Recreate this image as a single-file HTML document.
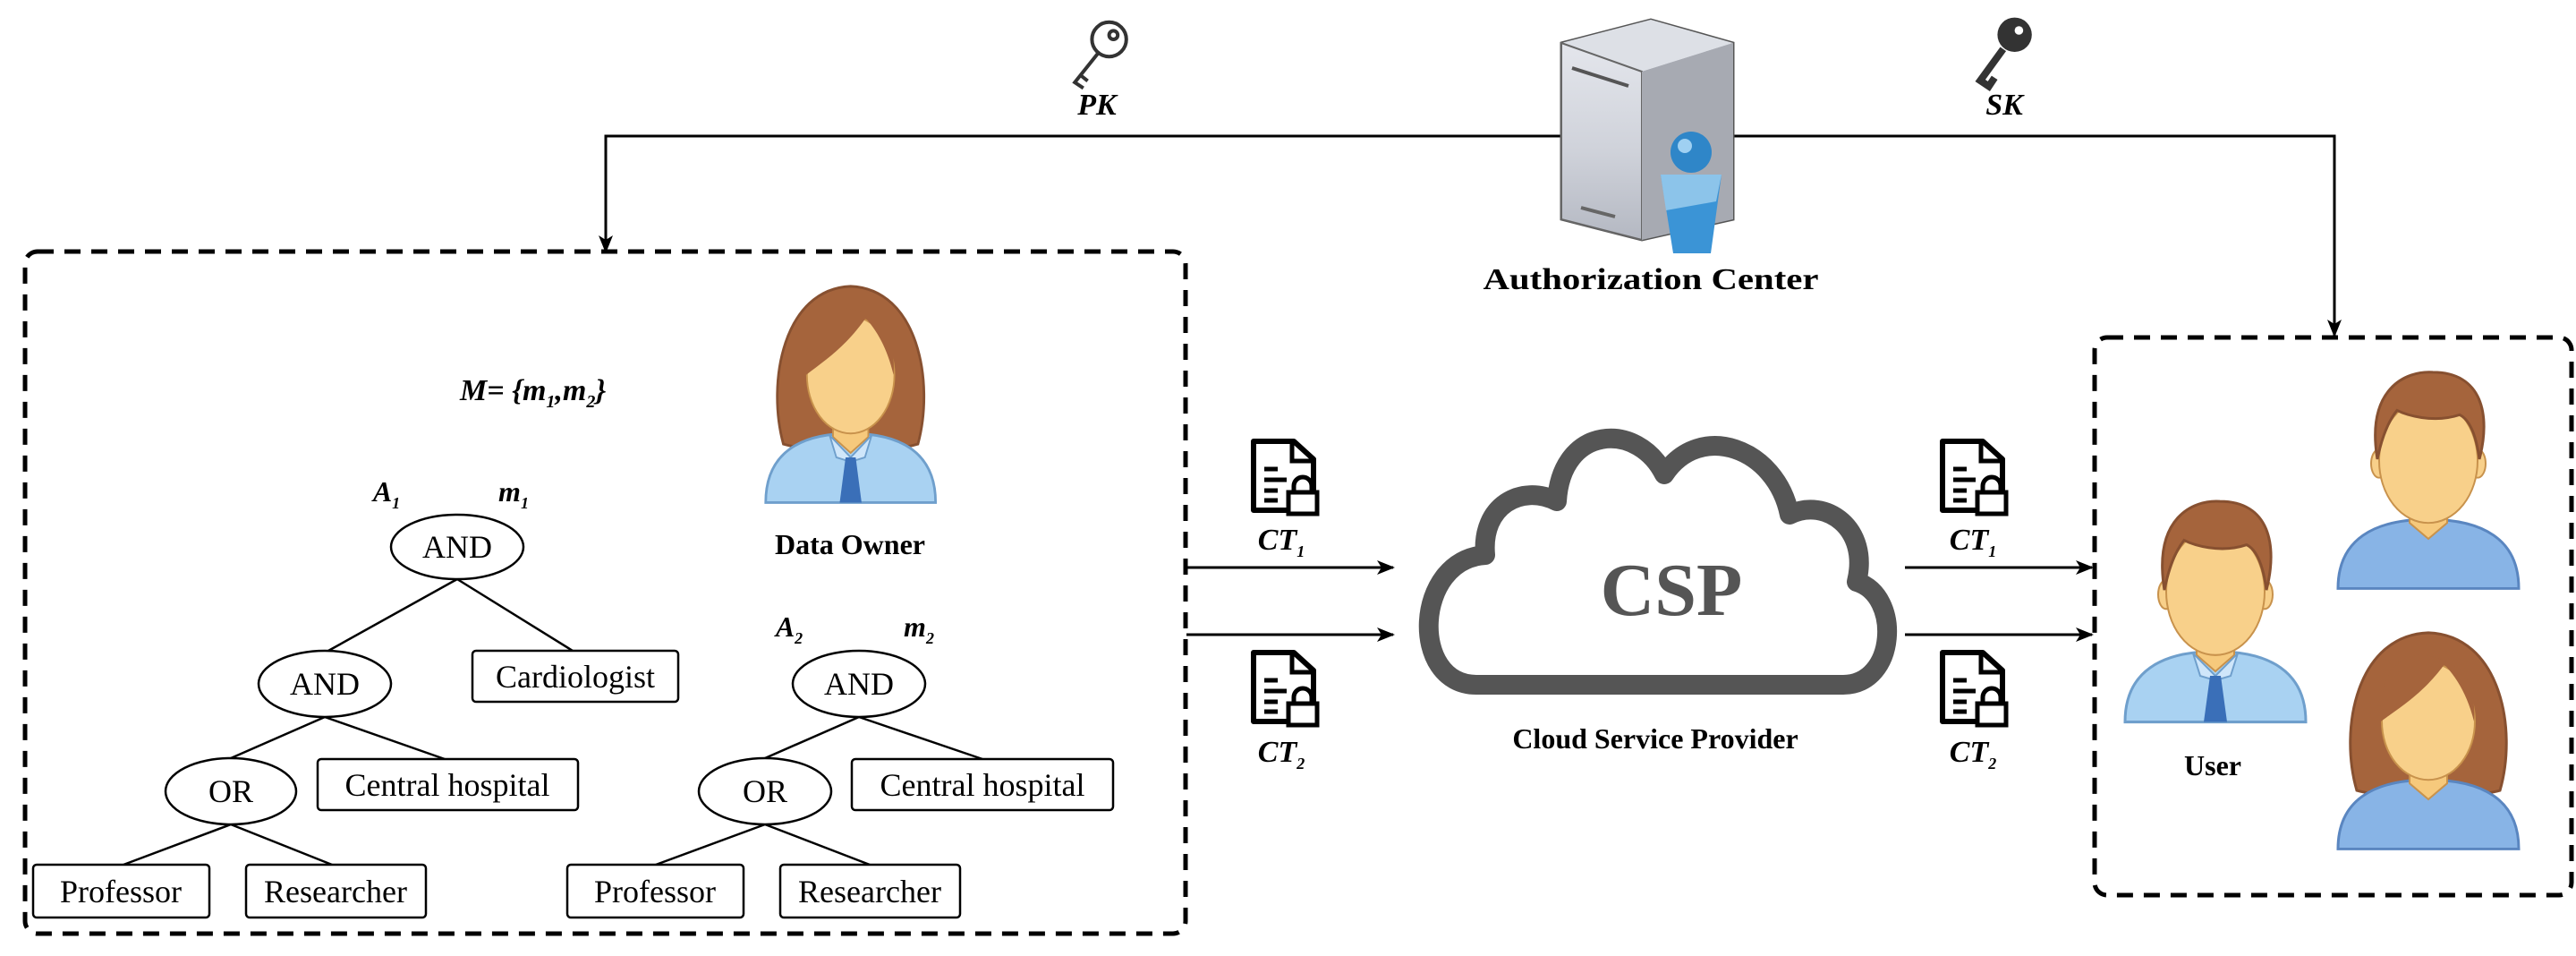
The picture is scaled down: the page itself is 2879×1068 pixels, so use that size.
<!DOCTYPE html>
<html><head><meta charset="utf-8"><style>html,body{margin:0;padding:0;background:#fff;}svg{display:block;}</style></head><body>
<svg width="2879" height="1068" viewBox="0 0 2879 1068" xmlns="http://www.w3.org/2000/svg">
<defs>
<marker id="ar" viewBox="0 0 20 20" refX="18" refY="10" markerWidth="20" markerHeight="20" markerUnits="userSpaceOnUse" orient="auto"><path d="M0,2 L20,10 L0,18 L5,10 Z" fill="#000"/></marker>
<linearGradient id="sf" x1="0" y1="0" x2="0" y2="1"><stop offset="0" stop-color="#e4e6ec"/><stop offset="0.55" stop-color="#cfd2da"/><stop offset="1" stop-color="#b4b8c2"/></linearGradient>
<g id="doc"><path d="M5,5 L50,5 L72,25 L72,82 L5,82 Z" fill="#fff" stroke="#000" stroke-width="6" stroke-linejoin="round"/><path d="M48,5 L48,27 L72,27" fill="none" stroke="#000" stroke-width="5"/><line x1="17" y1="36" x2="32" y2="36" stroke="#000" stroke-width="5"/><line x1="17" y1="48" x2="42" y2="48" stroke="#000" stroke-width="5"/><line x1="17" y1="60" x2="32" y2="60" stroke="#000" stroke-width="5"/><line x1="17" y1="71" x2="32" y2="71" stroke="#000" stroke-width="5"/><rect x="44" y="62" width="32" height="24" fill="#fff" stroke="#000" stroke-width="5"/><path d="M50,62 V55 A10,10 0 0 1 70,55 V62" fill="none" stroke="#000" stroke-width="5"/></g>
<path id="hairw" d="M25,190 C5,120 25,15 105,12 C185,15 205,120 185,190 C150,200 60,200 25,190 Z" fill="#a5643c" stroke="#875030" stroke-width="3"/>
<g id="body"><path d="M4,256 C4,200 45,178 105,178 C165,178 206,200 206,256 Z" fill="#a9d2f2" stroke="#6f9fcc" stroke-width="3"/><path d="M84,138 L126,138 L126,182 L105,200 L84,182 Z" fill="#f6c97c" stroke="#c8924c" stroke-width="2"/></g>
<g id="bodyb"><path d="M4,256 C4,200 45,178 105,178 C165,178 206,200 206,256 Z" fill="#88b4e6" stroke="#5a86c0" stroke-width="3"/><path d="M84,138 L126,138 L126,182 L105,200 L84,182 Z" fill="#f6c97c" stroke="#c8924c" stroke-width="2"/></g>
<g id="tie"><path d="M80,180 L105,205 L130,180 L122,205 L105,210 L88,205 Z" fill="#cfe6fa" stroke="#6f9fcc" stroke-width="2"/><path d="M99,205 L111,205 L118,256 L92,256 Z" fill="#3a6fb8"/></g>
<g id="wfront"><ellipse cx="105" cy="112" rx="52" ry="66" fill="#f8d08a" stroke="#c8924c" stroke-width="2"/><path d="M52,112 C48,40 90,25 125,45 C100,80 75,95 52,112 Z" fill="#a5643c"/><path d="M120,45 C150,50 158,80 156,112 C148,80 135,60 120,45Z" fill="#a5643c"/></g>
<g id="mfront"><ellipse cx="50" cy="115" rx="9" ry="16" fill="#f8d08a" stroke="#c8924c" stroke-width="2"/><ellipse cx="160" cy="115" rx="9" ry="16" fill="#f8d08a" stroke="#c8924c" stroke-width="2"/><ellipse cx="105" cy="112" rx="55" ry="70" fill="#f8d08a" stroke="#c8924c" stroke-width="2"/><path d="M48,110 C35,30 80,10 110,12 C165,12 175,60 162,110 C158,80 150,65 140,60 C110,70 80,60 70,55 C58,70 52,90 48,110 Z" fill="#a5643c" stroke="#875030" stroke-width="3"/></g>
</defs>

<polyline points="1745,152 677,152 677,281" fill="none" stroke="#000" stroke-width="3" marker-end="url(#ar)"/>
<polyline points="1937,152 2609,152 2609,375" fill="none" stroke="#000" stroke-width="3" marker-end="url(#ar)"/>

<g transform="translate(1230,60) scale(1.6)" fill="none" stroke="#333" stroke-width="2.5"><circle cx="6" cy="-10" r="12"/><circle cx="9" cy="-13" r="3"/><path d="M-2,0 L-18,20 L-12,24 M-14,15 L-9,19"/></g>
<text x="1226" y="128" font-family="Liberation Serif, serif" font-weight="bold" font-style="italic" font-size="34" text-anchor="middle">PK</text>
<g transform="translate(2242,58) scale(1.6)"><circle cx="6" cy="-12" r="12" fill="#333"/><circle cx="9" cy="-15" r="3" fill="#fff"/><path d="M-2,-2 L-18,20 L-12,24 L-8,18" fill="none" stroke="#333" stroke-width="5"/></g>
<text x="2240" y="128" font-family="Liberation Serif, serif" font-weight="bold" font-style="italic" font-size="34" text-anchor="middle">SK</text>

<path d="M1745,48 L1845,22 L1937,48 L1937,245 L1835,268 L1745,245 Z" fill="#9a9da6" stroke="#555" stroke-width="3"/>
<path d="M1745,48 L1845,22 L1937,48 L1835,80 Z" fill="#dde0e6"/>
<path d="M1745,48 L1835,80 L1835,268 L1745,245 Z" fill="url(#sf)" stroke="#666" stroke-width="2"/>
<path d="M1835,80 L1937,48 L1937,245 L1835,268 Z" fill="#a7aab2"/>
<line x1="1757" y1="76" x2="1820" y2="96" stroke="#555" stroke-width="4"/>
<line x1="1767" y1="232" x2="1805" y2="242" stroke="#666" stroke-width="4"/>
<path d="M1856,195 L1924,195 L1912,283 L1870,283 Z" fill="#3b94d6"/>
<path d="M1856,195 L1924,195 L1918,225 L1862,235 Z" fill="#8cc4ea"/>
<circle cx="1890" cy="170" r="23" fill="#2f86c8"/><circle cx="1883" cy="163" r="8" fill="#9fd0f2"/>
<text x="1845" y="323" font-family="Liberation Serif, serif" font-weight="bold" font-size="34" text-anchor="middle" textLength="375" lengthAdjust="spacingAndGlyphs">Authorization Center</text>

<rect x="28" y="281" width="1297" height="762" rx="14" fill="none" stroke="#000" stroke-width="5" stroke-dasharray="18,12"/>
<text x="514" y="447" font-family="Liberation Serif, serif" font-weight="bold" font-style="italic" font-size="34">M= {m<tspan font-size="20" dy="8">1</tspan><tspan dy="-8">,m</tspan><tspan font-size="20" dy="8">2</tspan><tspan dy="-8">}</tspan></text>

<g transform="translate(852,308) scale(0.94,0.99)"><use href="#hairw"/><use href="#body"/><use href="#tie"/><use href="#wfront"/></g>
<text x="950" y="619" font-family="Liberation Serif, serif" font-weight="bold" font-size="32" text-anchor="middle">Data Owner</text>

<g font-family="Liberation Serif, serif" font-size="36" text-anchor="middle" stroke-width="2.5">
<text x="432" y="560" font-weight="bold" font-style="italic" font-size="32">A<tspan font-size="18" dy="8">1</tspan></text>
<text x="574" y="560" font-weight="bold" font-style="italic" font-size="32">m<tspan font-size="18" dy="8">1</tspan></text>
<g stroke="#000" fill="none">
<line x1="511" y1="647" x2="367" y2="727"/><line x1="511" y1="647" x2="640" y2="727"/>
<line x1="363" y1="801" x2="258" y2="847"/><line x1="363" y1="801" x2="497" y2="848"/>
<line x1="258" y1="921" x2="138" y2="966"/><line x1="258" y1="921" x2="371" y2="966"/>
<line x1="960" y1="801" x2="855" y2="847"/><line x1="960" y1="801" x2="1098" y2="848"/>
<line x1="855" y1="921" x2="733" y2="966"/><line x1="855" y1="921" x2="972" y2="966"/>
</g>
<g stroke="#000" fill="#fff">
<ellipse cx="511" cy="611" rx="74" ry="36"/>
<ellipse cx="363" cy="764" rx="74" ry="37"/>
<rect x="528" y="727" width="230" height="57" rx="4"/>
<ellipse cx="258" cy="884" rx="73" ry="37"/>
<rect x="355" y="848" width="291" height="57" rx="4"/>
<rect x="37" y="966" width="197" height="59" rx="4"/>
<rect x="275" y="966" width="201" height="59" rx="4"/>
<ellipse cx="960" cy="764" rx="74" ry="37"/>
<ellipse cx="855" cy="884" rx="74" ry="37"/>
<rect x="952" y="848" width="292" height="57" rx="4"/>
<rect x="634" y="966" width="197" height="59" rx="4"/>
<rect x="872" y="966" width="201" height="59" rx="4"/>
</g>
<text x="511" y="623">AND</text><text x="363" y="776">AND</text><text x="643" y="768">Cardiologist</text>
<text x="258" y="896">OR</text><text x="500" y="889">Central hospital</text>
<text x="135" y="1008">Professor</text><text x="375" y="1008">Researcher</text>
<text x="882" y="711" font-weight="bold" font-style="italic" font-size="32">A<tspan font-size="18" dy="8">2</tspan></text>
<text x="1027" y="711" font-weight="bold" font-style="italic" font-size="32">m<tspan font-size="18" dy="8">2</tspan></text>
<text x="960" y="776">AND</text><text x="855" y="896">OR</text><text x="1098" y="889">Central hospital</text>
<text x="732" y="1008">Professor</text><text x="972" y="1008">Researcher</text>
</g>

<line x1="1326" y1="634" x2="1557" y2="634" stroke="#000" stroke-width="3" marker-end="url(#ar)"/>
<line x1="1326" y1="709" x2="1557" y2="709" stroke="#000" stroke-width="3" marker-end="url(#ar)"/>
<use href="#doc" transform="translate(1396,488)"/>
<use href="#doc" transform="translate(1396,724)"/>
<g font-family="Liberation Serif, serif" font-weight="bold" font-style="italic" font-size="34" text-anchor="middle">
<text x="1432" y="614">CT<tspan font-size="18" dy="8">1</tspan></text>
<text x="1432" y="851">CT<tspan font-size="18" dy="8">2</tspan></text>
<text x="2205" y="614">CT<tspan font-size="18" dy="8">1</tspan></text>
<text x="2205" y="851">CT<tspan font-size="18" dy="8">2</tspan></text>
</g>

<path d="M1650,765 L2060,765 C2120,765 2125,665 2075,650 C2090,590 2040,555 2000,575 C1985,500 1900,470 1860,530 C1830,470 1745,475 1740,560 C1700,540 1655,565 1660,620 C1580,625 1575,765 1650,765 Z" fill="#fff" stroke="#555" stroke-width="22" stroke-linejoin="round"/>
<text x="1868" y="687" font-family="Liberation Serif, serif" font-weight="bold" font-size="84" fill="#555" text-anchor="middle">CSP</text>
<text x="1850" y="836" font-family="Liberation Serif, serif" font-weight="bold" font-size="32" text-anchor="middle">Cloud Service Provider</text>

<line x1="2129" y1="634" x2="2338" y2="634" stroke="#000" stroke-width="3" marker-end="url(#ar)"/>
<line x1="2129" y1="709" x2="2338" y2="709" stroke="#000" stroke-width="3" marker-end="url(#ar)"/>
<use href="#doc" transform="translate(2166,488)"/>
<use href="#doc" transform="translate(2166,724)"/>

<rect x="2341" y="377" width="533" height="623" rx="14" fill="none" stroke="#000" stroke-width="5" stroke-dasharray="18,12"/>
<g transform="translate(2371,548) scale(1,1.01)"><use href="#body"/><use href="#tie"/><use href="#mfront"/></g>
<text x="2473" y="866" font-family="Liberation Serif, serif" font-weight="bold" font-size="32" text-anchor="middle">User</text>
<g transform="translate(2609,404) scale(1,0.99)"><use href="#bodyb"/><use href="#mfront"/></g>
<g transform="translate(2609,695) scale(1,0.99)"><use href="#hairw"/><use href="#bodyb"/><use href="#wfront"/></g>
</svg>
</body></html>
